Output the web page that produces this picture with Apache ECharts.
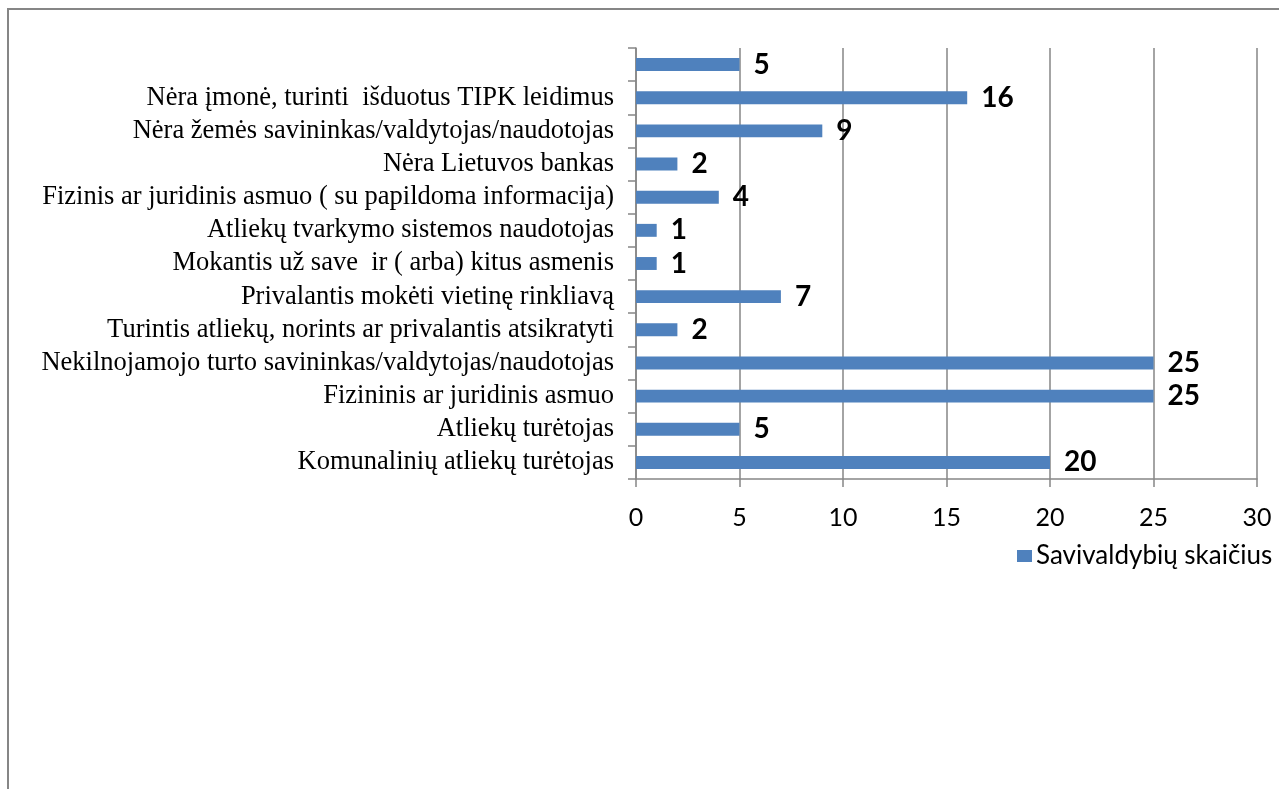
<!DOCTYPE html>
<html>
<head>
<meta charset="utf-8">
<script src="https://cdn.jsdelivr.net/npm/echarts@6/dist/echarts.min.js"></script>
<style>
html,body{margin:0;padding:0;background:#fff;}
#chart{width:1279px;height:789px;}
</style>
</head>
<body>
<div id="chart"></div>
<script>
// Categories listed bottom to top (as ECharts draws a category y-axis)
const categories = [
  "Komunalinių atliekų turėtojas",
  "Atliekų turėtojas",
  "Fizininis ar juridinis asmuo",
  "Nekilnojamojo turto savininkas/valdytojas/naudotojas",
  "Turintis atliekų, norints ar privalantis atsikratyti",
  "Privalantis mokėti vietinę rinkliavą",
  "Mokantis už save  ir ( arba) kitus asmenis",
  "Atliekų tvarkymo sistemos naudotojas",
  "Fizinis ar juridinis asmuo ( su papildoma informacija)",
  "Nėra Lietuvos bankas",
  "Nėra žemės savininkas/valdytojas/naudotojas",
  "Nėra įmonė, turinti  išduotus TIPK leidimus",
  ""
];
const seriesName = "Savivaldybių skaičius";
const values = [20, 5, 25, 25, 2, 7, 1, 1, 4, 2, 9, 16, 5];
const xMin = 0, xMax = 30, xStep = 5;

const chart = echarts.init(document.getElementById('chart'), null, {renderer: 'canvas'});
const gray = '#868686';
chart.setOption({
  animation: false,
  backgroundColor: '#fff',
  graphic: [{
    type: 'rect',
    shape: {x: 8, y: 9, width: 1400, height: 900},
    style: {fill: 'none', stroke: gray, lineWidth: 2},
    silent: true
  }],
  grid: {left: 636, top: 48, width: 621, height: 431, containLabel: false},
  legend: {
    left: 1012, top: 538,
    itemWidth: 15, itemHeight: 12, itemGap: 10,
    icon: 'rect',
    textStyle: {fontFamily: 'Lato', fontSize: 26, color: '#000', padding: [0,0,0,-1]},
    data: [seriesName]
  },
  xAxis: {
    type: 'value', min: xMin, max: xMax, interval: xStep,
    axisLine: {show: true, lineStyle: {color: gray, width: 1.5}},
    axisTick: {show: true, length: 8, lineStyle: {color: gray, width: 1.5}},
    splitLine: {show: true, lineStyle: {color: gray, width: 1.5}},
    axisLabel: {fontFamily: 'Lato', fontSize: 25, color: '#000', margin: 26}
  },
  yAxis: {
    type: 'category', data: categories,
    axisLine: {show: true, lineStyle: {color: gray, width: 1.5}},
    axisTick: {show: true, length: 8, alignWithLabel: false, lineStyle: {color: gray, width: 1.5}},
    axisLabel: {fontFamily: 'Liberation Serif', fontSize: 26.5, color: '#000', margin: 22, interval: 0}
  },
  series: [{
    name: seriesName,
    type: 'bar',
    data: values,
    barWidth: '39%',
    itemStyle: {color: '#4F81BD'},
    label: {
      show: true, position: 'right', distance: 14,
      fontFamily: 'Lato', fontWeight: 'bold', fontSize: 28, color: '#000'
    }
  }]
});
</script>
</body>
</html>
